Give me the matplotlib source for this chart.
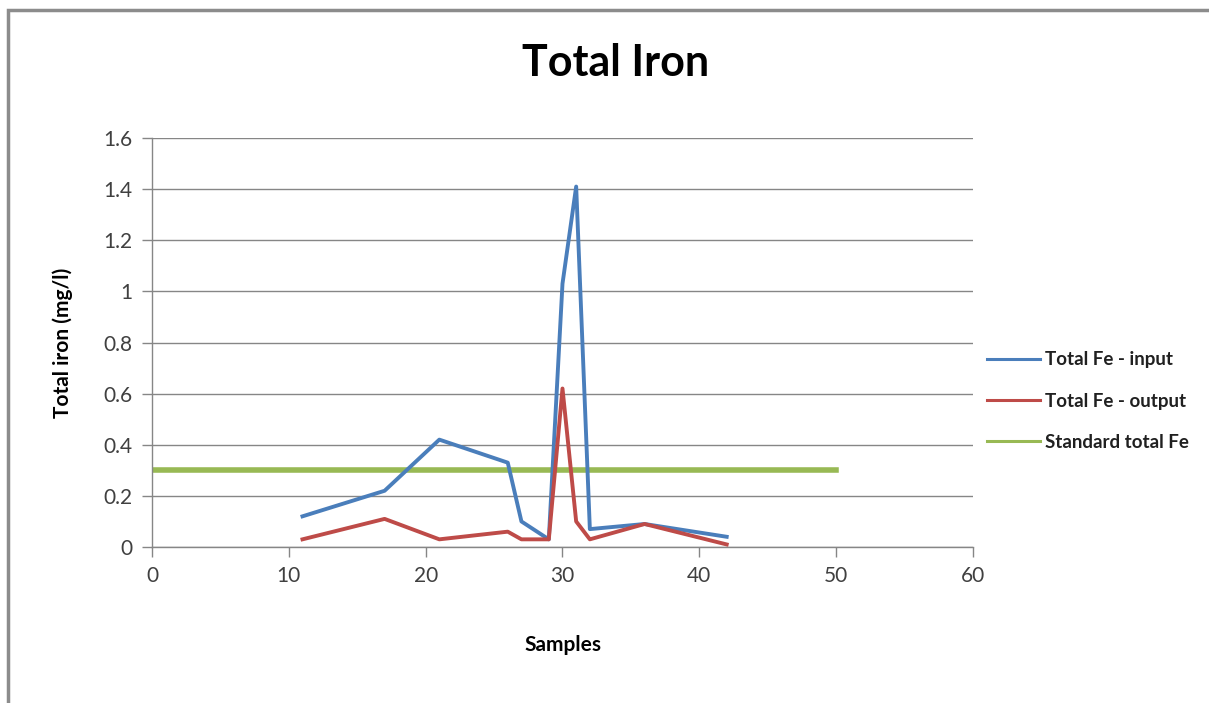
import matplotlib
matplotlib.use("Agg")
import matplotlib.pyplot as plt
from matplotlib.patches import Rectangle

plt.rcParams['font.family'] = ['Lato', 'DejaVu Sans']

samples = [11, 17, 21, 26, 27, 29, 30, 31, 32, 36, 42]
fe_input = [0.12, 0.22, 0.42, 0.33, 0.10, 0.03, 1.03, 1.41, 0.07, 0.09, 0.04]
fe_output = [0.03, 0.11, 0.03, 0.06, 0.03, 0.03, 0.62, 0.10, 0.03, 0.09, 0.01]
std_x = [0, 50]
std_y = [0.3, 0.3]

x_ticks = [0, 10, 20, 30, 40, 50, 60]
y_ticks = [0, 0.2, 0.4, 0.6, 0.8, 1.0, 1.2, 1.4, 1.6]
y_tick_labels = ['0', '0.2', '0.4', '0.6', '0.8', '1', '1.2', '1.4', '1.6']

fig = plt.figure(figsize=(12.09, 7.03), dpi=100)
fig.patches.append(Rectangle((8/1209, -0.01), 1.1, (703-10)/703 + 0.01,
                             transform=fig.transFigure, fill=False,
                             edgecolor='#8c8c8c', linewidth=2.5, zorder=0))

ax = fig.add_axes([0.1257, 0.2219, 0.8048 - 0.1257, 0.8037 - 0.2219])

ax.plot(samples, fe_input, color='#4a7ebb', linewidth=2.8, label='Total Fe - input', zorder=3)
ax.plot(samples, fe_output, color='#be4b48', linewidth=2.8, label='Total Fe - output', zorder=3)
ax.plot(std_x, std_y, color='#98b954', linewidth=4, label='Standard total Fe', zorder=2)

ax.set_xlim(0, 60)
ax.set_ylim(0, 1.6)
ax.set_xticks(x_ticks)
ax.set_yticks(y_ticks)
ax.set_yticklabels(y_tick_labels)
ax.tick_params(axis='both', labelsize=15, colors='#404040', length=7, width=1,
               direction='out', pad=7)
ax.tick_params(axis='both', color='#868686')

ax.grid(axis='y', color='#868686', linewidth=1)
ax.set_axisbelow(True)
for s in ['top', 'right']:
    ax.spines[s].set_visible(False)
for s in ['left', 'bottom']:
    ax.spines[s].set_color('#868686')
    ax.spines[s].set_linewidth(1)

ax.set_xlabel('Samples', fontsize=15, fontweight='bold', labelpad=35)
ax.set_ylabel('Total iron (mg/l)', fontsize=15, fontweight='bold', labelpad=22)
fig.text(0.509, 0.91, 'Total Iron', fontsize=31, fontweight='bold', ha='center', va='center')

leg = fig.legend(*ax.get_legend_handles_labels(), loc='center left',
                 bbox_to_anchor=(987/1209, 1 - 401/703), frameon=False,
                 fontsize=13.5, handlelength=2.8, labelspacing=1.3, handletextpad=0.3,
                 borderaxespad=0, borderpad=0)
for t in leg.get_texts():
    t.set_fontweight('bold')
    t.set_color('#202020')
for l in leg.get_lines():
    l.set_linewidth(2.2)

fig.savefig('out.png', dpi=100, facecolor='white')
